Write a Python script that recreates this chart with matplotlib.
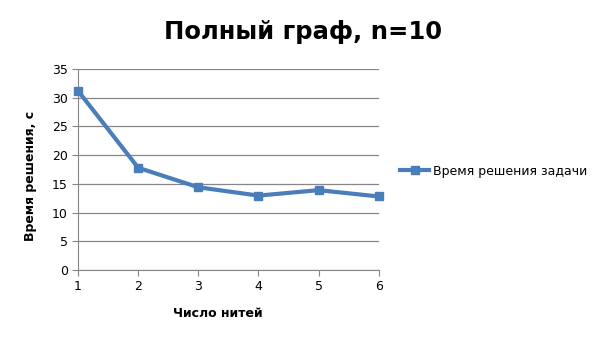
import matplotlib.pyplot as plt

threads = [1, 2, 3, 4, 5, 6]
times = [31.2, 17.8, 14.4, 12.95, 13.9, 12.8]
y_ticks = [0, 5, 10, 15, 20, 25, 30, 35]

fig = plt.figure(figsize=(6.05, 3.4), dpi=100)
ax = fig.add_axes([0.129, 0.206, 0.497, 0.591])

ax.plot(threads, times, color='#4a7ebb', linewidth=3, marker='s', markersize=6,
        label='Время решения задачи', clip_on=False, zorder=3)

ax.set_xlim(1, 6)
ax.set_ylim(0, 35)
ax.set_xticks(threads)
ax.set_yticks(y_ticks)
ax.yaxis.grid(True, color='#868686', linewidth=0.9)
ax.set_axisbelow(True)
for side in ['top', 'right']:
    ax.spines[side].set_visible(False)
for side in ['left', 'bottom']:
    ax.spines[side].set_color('#868686')
ax.tick_params(colors='#868686', labelcolor='black', labelsize=9, length=4)

ax.set_xlabel('Число нитей', fontsize=9, fontweight='bold')
ax.xaxis.set_label_coords(0.465, -0.182)
ax.set_ylabel('Время решения, с', fontsize=9, fontweight='bold')
ax.yaxis.set_label_coords(-0.135, 0.468)
fig.suptitle('Полный граф, n=10', fontsize=17.5, fontweight='bold', y=0.94)

fig.legend(loc='center left', bbox_to_anchor=(0.643, 0.497), frameon=False,
           fontsize=9, handlelength=2.3, handletextpad=0.3)

fig.savefig('out.png', dpi=100)
